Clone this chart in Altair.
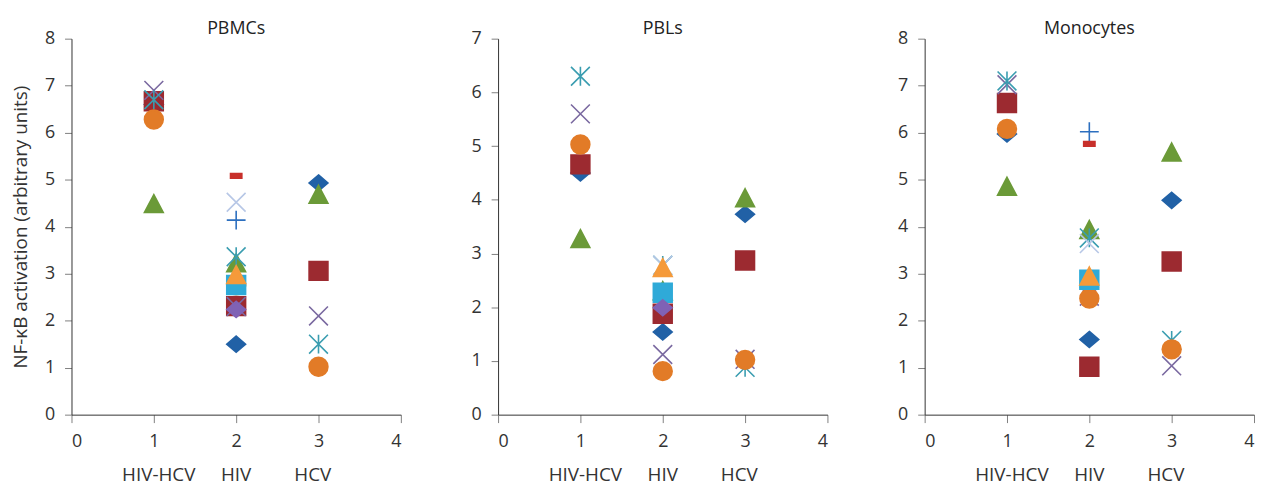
import altair as alt
import pandas as pd

FONT = "Open Sans"

panels = ["PBMCs", "PBLs", "Monocytes"]
y_max = [8, 7, 8]
groups = ["HIV-HCV", "HIV", "HCV"]
group_x = [1, 2, 3]
label_x = [1.06, 2.0, 2.93]
title_x = [2.0, 2.0, 2.0]

series = ["s1", "s2", "s3", "s4", "s5", "s6", "s7", "s8", "s9", "s10", "s11", "s12"]
colors = ["#2161A6", "#9C2A30", "#6B9A38", "#7A69A0", "#3A9DB0", "#E27B27",
          "#2C6FBF", "#C8302B", "#B7C7E6", "#2FAAD8", "#F59A3A", "#8062B5"]
shapes = [
    "M0,-0.85L1,0L0,0.85L-1,0Z",                 # diamond
    "M-1,-1L1,-1L1,1L-1,1Z",                     # square
    "M0,-1L1,0.9L-1,0.9Z",                       # triangle
    "M-1,-1L1,1M-1,1L1,-1",                      # x
    "M-1,-1L1,1M-1,1L1,-1M0,-1L0,1",             # asterisk
    "circle",                                    # circle
    "M-1,0L1,0M0,-1L0,1",                        # plus
    "M-0.6,-0.25L0.6,-0.25L0.6,0.25L-0.6,0.25Z", # dash
    "M-1,-1L1,1M-1,1L1,-1",                      # x (light)
    "M-1,-1L1,-1L1,1L-1,1Z",                     # square (cyan)
    "M0,-1L1,0.9L-1,0.9Z",                       # triangle (orange)
    "M0,-0.85L1,0L0,0.85L-1,0Z",                 # diamond (purple)
]

# values per series at [HIV-HCV, HIV, HCV]; None = no point
pbmc = {
    "s1": [6.6, 1.5, 4.93], "s2": [6.67, 2.31, 3.06], "s3": [4.48, 3.22, 4.68],
    "s4": [6.9, 2.3, 2.1], "s5": [6.7, 3.36, 1.5], "s6": [6.28, 2.75, 1.02],
    "s7": [None, 4.14, None], "s8": [None, 5.08, None], "s9": [None, 4.52, None],
    "s10": [None, 2.76, None], "s11": [None, 2.97, None], "s12": [None, 2.24, None],
}
pbl = {
    "s1": [4.5, 1.54, 3.73], "s2": [4.66, 1.88, 2.87], "s3": [3.27, 2.3, 4.03],
    "s4": [5.6, 1.12, 1.03], "s5": [6.3, 2.78, 0.88], "s6": [5.03, 0.81, 1.02],
    "s7": [None, None, None], "s8": [None, None, None], "s9": [None, 2.78, None],
    "s10": [None, 2.27, None], "s11": [None, 2.73, None], "s12": [None, 1.99, None],
}
mono = {
    "s1": [5.97, 1.6, 4.56], "s2": [6.63, 1.02, 3.26], "s3": [4.85, 3.93, 5.58],
    "s4": [7.02, 2.52, 1.04], "s5": [7.1, 3.76, 1.58], "s6": [6.08, 2.47, 1.39],
    "s7": [None, 6.02, None], "s8": [None, 5.76, None], "s9": [None, 3.64, None],
    "s10": [None, 2.87, None], "s11": [None, 2.94, None], "s12": [None, None, None],
}
panel_values = [pbmc, pbl, mono]


def panel_chart(i):
    vals = panel_values[i]
    rows = []
    for s in series:
        for gx, v in zip(group_x, vals[s]):
            if v is not None:
                rows.append({"series": s, "x": gx, "y": v})
    df = pd.DataFrame(rows)
    xs = alt.Scale(domain=[0, 4], nice=False)
    ys = alt.Scale(domain=[0, y_max[i]], nice=False)
    ytitle = "NF-κB activation (arbitrary units)" if i == 0 else None
    yvals = list(range(0, y_max[i] + 1))
    if ytitle:
        yaxis = alt.Axis(title=ytitle, values=yvals, format="d", labelOverlap=False)
    else:
        yaxis = alt.Axis(title=None, values=yvals, format="d", labelOverlap=False)
    xaxis = alt.Axis(title=None, values=[0, 1, 2, 3, 4], format="d", labelOverlap=False)
    pts = alt.Chart(df).mark_point(opacity=1, strokeWidth=1.6, size=360).encode(
        x=alt.X("x:Q", scale=xs, axis=xaxis),
        y=alt.Y("y:Q", scale=ys, axis=yaxis),
        shape=alt.Shape("series:N", scale=alt.Scale(domain=series, range=shapes), legend=None),
        fill=alt.Fill("series:N", scale=alt.Scale(domain=series, range=colors), legend=None),
        stroke=alt.Stroke("series:N", scale=alt.Scale(domain=series, range=colors), legend=None),
    )
    lab_df = pd.DataFrame({"label": groups, "x": label_x})
    labs = alt.Chart(lab_df).mark_text(
        font=FONT, fontSize=19, color="#333333", baseline="middle", align="center"
    ).encode(
        x=alt.X("x:Q", scale=xs, axis=xaxis),
        y=alt.value(440),
        text="label:N",
    )
    ttl_df = pd.DataFrame({"label": [panels[i]], "x": [title_x[i]]})
    ttl = alt.Chart(ttl_df).mark_text(
        font=FONT, fontSize=18, color="#222222", baseline="middle", align="center"
    ).encode(
        x=alt.X("x:Q", scale=xs, axis=xaxis),
        y=alt.value(-10),
        text="label:N",
    )
    return alt.layer(pts, labs, ttl).properties(width=332, height=379)


chart = alt.hconcat(*[panel_chart(i) for i in range(3)], spacing=69).properties(
    padding={"left": 3, "top": 10, "right": 0, "bottom": 0}
).configure_view(stroke=None).configure_axis(
    grid=False,
    domainColor="#333333",
    domainWidth=1,
    tickColor="#808080",
    labelFont=FONT,
    labelFontSize=18,
    labelColor="#333333",
    titleFont=FONT,
    titleFontSize=19,
    titleFontWeight="normal",
    titleColor="#333333",
    titlePadding=14,
).configure_axisY(tickSize=7, labelPadding=10).configure_axisX(tickSize=8, labelPadding=10)

chart.save("out.html", embed_options={"renderer": "svg", "actions": False})
